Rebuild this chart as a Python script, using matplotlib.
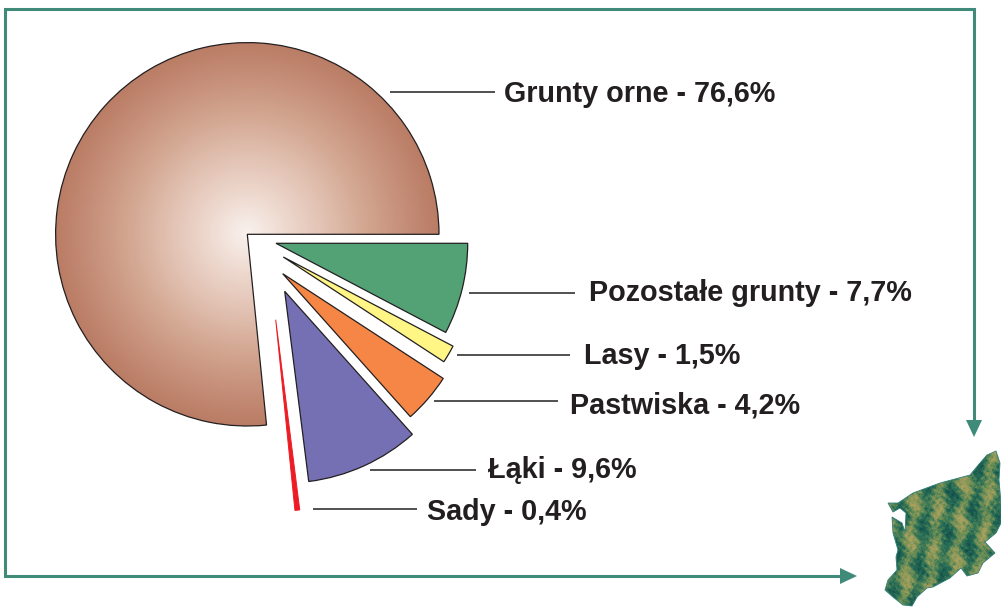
import numpy as np
import matplotlib
matplotlib.use("Agg")
import matplotlib.pyplot as plt
from matplotlib.colors import LinearSegmentedColormap
from matplotlib.patches import Polygon

plt.rcParams['font.family'] = ['Liberation Sans', 'DejaVu Sans']

W, H = 1001, 607

# shares, counter-clockwise from 3 o'clock
names = ["Grunty orne", "Sady", "Łąki", "Pastwiska", "Lasy", "Pozostałe grunty"]
shares = [76.6, 0.4, 9.6, 4.2, 1.5, 7.7]
share_labels = ["76,6%", "0,4%", "9,6%", "4,2%", "1,5%", "7,7%"]
colors = ["none", "#ed1c24", "#7570b3", "#f68645", "#fff685", "#52a276"]

# how far each slice is pulled out, px right / px down
pull_x = [0, 28.4, 37.4, 35.4, 36, 28.7]
pull_y = [0, 85.4, 57, 39.4, 22.7, 9]

# text anchor and leader line for each label, in image px
label_x = [504, 427, 488, 570, 584, 589]
label_y = [94, 512, 470, 405, 356, 293]
lead_x0 = [390, 313, 370, 434, 457, 469]
lead_x1 = [495, 417, 476, 558, 570, 575]
lead_y = [92, 509, 470, 401, 355, 293]

map_x = [996, 1000, 999, 1001, 1001, 996, 985, 995, 983, 978, 967, 961, 950, 933, 927, 917, 912,
         903, 893, 885, 888, 897, 896, 898, 893, 892, 902, 905, 906, 900, 893, 888, 898, 913, 940, 970, 980, 987]
map_y = [451, 463, 480, 503, 523, 533, 542, 553, 563, 573, 576, 568, 578, 587, 588, 597, 606,
         605, 597, 590, 580, 570, 557, 550, 533, 517, 523, 532, 513, 508, 512, 503, 503, 493, 483, 475, 463, 455]

GREEN = "#3f8a78"
INK = "#231f20"


def py(y):
    return H - y


fig = plt.figure(figsize=(W / 100, H / 100), dpi=100)
ax = fig.add_axes([0, 0, 1, 1])

cx, cy = 247.3, py(234.3)
wedges, _ = ax.pie(shares, startangle=0, counterclock=True, radius=191.7, center=(cx, cy),
                   colors=colors, wedgeprops={"edgecolor": "#231f20", "linewidth": 0.9})
for w, dx, dy in zip(wedges, pull_x, pull_y):
    w.set_center((cx + dx, cy - dy))
wedges[0].set_facecolor("none")
wedges[0].set_zorder(3)
wedges[1].set_edgecolor("#ed1c24")
wedges[1].set_linewidth(0.7)

# radial shading of the main slice
gx, gy = np.meshgrid(np.linspace(cx - 200, cx + 200, 500), np.linspace(cy - 200, cy + 200, 500))
dist = np.hypot(gx - cx, gy - cy) / 191.7
shade = LinearSegmentedColormap.from_list("shade", ["#f9f2ee", "#eed9cf", "#e2c2b3", "#d4a994", "#c7917b", "#ba7c65"])
img = ax.imshow(dist, extent=(cx - 200, cx + 200, cy - 200, cy + 200), origin="lower",
                cmap=shade, vmin=0, vmax=1, zorder=0)
img.set_clip_path(wedges[0])

# leaders and labels
for x0, x1, y in zip(lead_x0, lead_x1, lead_y):
    ax.plot([x0, x1], [py(y), py(y)], color=INK, lw=1.1, solid_capstyle="butt")
for n, s, x, y in zip(names, share_labels, label_x, label_y):
    ax.text(x, py(y), f"{n} - {s}", fontsize=20.7, fontweight="bold", color=INK, ha="left", va="center")

# frame with the two arrows running to the map
ax.plot([974, 974, 5, 5, 842], [py(422), py(9), py(9), py(576), py(576)],
        color=GREEN, lw=2.2, solid_joinstyle="miter", solid_capstyle="butt")
ax.add_patch(Polygon([(966, py(420)), (982, py(420)), (974, py(437))], color=GREEN, lw=0))
ax.add_patch(Polygon([(840, py(568)), (840, py(584)), (857, py(576))], color=GREEN, lw=0))

# mottled texture of the map: soft stripes with fine grain
mx, my = np.meshgrid(np.arange(880, 1002, 0.5), np.arange(445, 608, 0.5))
wx = mx + 2 * np.sin(my * 0.19 + mx * 0.07) + 2 * np.sin(my * 0.73 - mx * 0.61)
wy = my + 2 * np.sin(mx * 0.23 - my * 0.11) + 2 * np.sin(mx * 0.91 + my * 0.67)
tex = (1.2 * np.sin(wx * 0.26 + wy * 0.03) + 0.7 * np.sin(wx * 0.07 - wy * 0.15)
       + 0.5 * np.sin(wx * 0.97 + wy * 1.23) + 0.5 * np.sin(wx * 1.19 - wy * 0.87)
       + 0.3 * np.sin(wx * 1.71 + wy * 0.53))
tex_cmap = LinearSegmentedColormap.from_list("land", ["#0f4543", "#17584f", "#2f7458", "#6f8f54", "#a59f5d", "#b8a968"])
tex_img = ax.imshow(tex, extent=(880, 1002, py(608), py(445)), cmap=tex_cmap, zorder=1, interpolation="bilinear")
outline = Polygon(list(zip(map_x, [py(v) for v in map_y])), transform=ax.transData, facecolor="none",
                  edgecolor="#2f7f78", lw=0.6, zorder=2)
ax.add_patch(outline)
tex_img.set_clip_path(outline)

ax.set_xlim(0, W)
ax.set_ylim(0, H)
ax.set_aspect("auto")
ax.axis("off")

fig.savefig("out.png", dpi=100, facecolor="white")
plt.close(fig)
